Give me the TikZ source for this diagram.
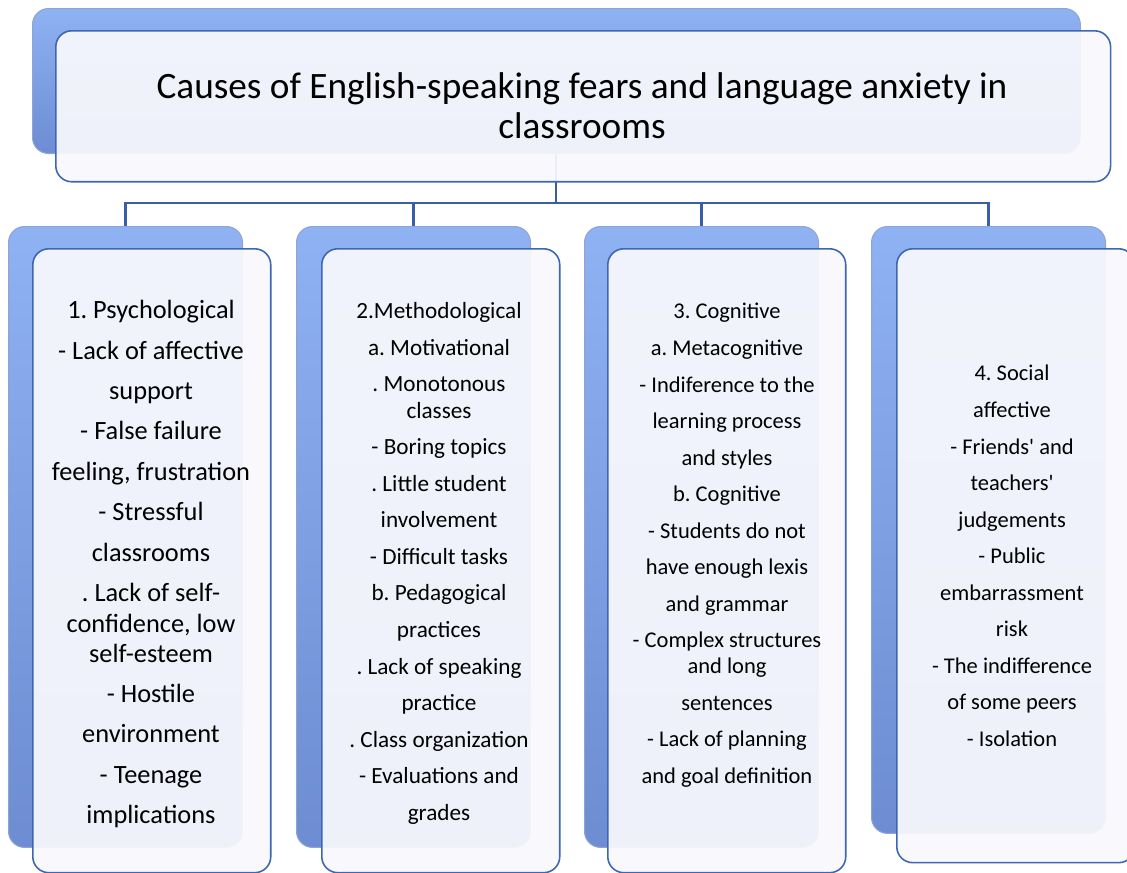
\documentclass[tikz,border=0pt]{standalone}
\usepackage{fontspec}
\setmainfont{Carlito}
\usetikzlibrary{positioning,backgrounds}
\frenchspacing

\definecolor{backtop}{HTML}{8FB2F3}
\definecolor{backbot}{HTML}{6D8CD2}
\definecolor{backedge}{HTML}{8EA4D6}
\definecolor{frontfill}{HTML}{F9F9FD}
\definecolor{frontline}{HTML}{3D66B3}
\definecolor{connline}{HTML}{3A5FA8}

\begin{document}
\begin{tikzpicture}[x=0.02cm,y=-0.02cm,
        backbox/.style={rectangle,rounded corners=0.32cm,top color=backtop,
                        bottom color=backbot,draw=backedge,line width=0.6pt,
                        anchor=north west,inner sep=0pt},
        frontbox/.style={rectangle,rounded corners=0.32cm,fill=frontfill,
                         fill opacity=0.93,draw=frontline,line width=0.9pt,
                         anchor=north west,inner sep=0pt},
        conn/.style={draw=connline,line width=1.2pt},
        titletxt/.style={anchor=north,align=center,inner sep=0pt,
                         font=\fontsize{21.2}{23.2}\selectfont},
        bigtxt/.style={anchor=north,align=center,inner sep=0pt,
                       font=\fontsize{15}{23}\selectfont},
        smalltxt/.style={anchor=north,align=center,inner sep=0pt,
                         font=\fontsize{12.8}{20.8}\selectfont}]

        \useasboundingbox (0,0) rectangle (1127,873);

        % top box
        \node[backbox,minimum width=20.96cm,minimum height=2.9cm] (topback) at (32,8) {};
        \node[frontbox,minimum width=21.1cm,minimum height=3.02cm] (topfront) at (55,30) {};
        \node[titletxt] (title) at (582,72)
             {Causes of English-speaking fears and language anxiety in\\classrooms};

        % the four causes
        \node[backbox,minimum width=4.68cm,minimum height=12.42cm] (psyback) at (8,226) {};
        \node[backbox,minimum width=4.68cm,minimum height=12.42cm] (metback) at (296,226) {};
        \node[backbox,minimum width=4.68cm,minimum height=12.42cm] (cogback) at (584,226) {};
        \node[backbox,minimum width=4.68cm,minimum height=12.14cm] (socback) at (871,226) {};

        \node[frontbox,minimum width=4.76cm,minimum height=12.48cm] (psyfront) at (32,248) {};
        \node[frontbox,minimum width=4.76cm,minimum height=12.48cm] (metfront) at (321,248) {};
        \node[frontbox,minimum width=4.76cm,minimum height=12.48cm] (cogfront) at (607,248) {};
        \node[frontbox,minimum width=4.76cm,minimum height=12.28cm] (socfront) at (896,248) {};

        \node[bigtxt] (psytxt) at (151,300)
             {1. Psychological\\- Lack of affective\\support\\- False failure\\
              feeling, frustration\\- Stressful\\classrooms\\. Lack of self-\\[-5.5pt]
              confidence, low\\[-6pt]self-esteem\\- Hostile\\environment\\
              - Teenage\\implications};
        \node[smalltxt,font=\fontsize{13.2}{20.8}\selectfont] (mettxt) at (439,302)
             {2.Methodological\\a. Motivational\\. Monotonous\\[-5.6pt]classes\\
              - Boring topics\\. Little student\\involvement\\- Difficult tasks\\
              b. Pedagogical\\practices\\. Lack of speaking\\practice\\
              . Class organization\\- Evaluations and\\grades};
        \node[smalltxt] (cogtxt) at (727,303)
             {3. Cognitive\\a. Metacognitive\\- Indiference to the\\learning process\\
              and styles\\b. Cognitive\\- Students do not\\have enough lexis\\
              and grammar\\- Complex structures\\[-6.2pt]and long\\sentences\\
              - Lack of planning\\and goal definition};
        \node[smalltxt] (soctxt) at (1012,365)
             {4. Social\\affective\\- Friends\textquotesingle\ and\\teachers\textquotesingle\\
              judgements\\- Public\\embarrassment\\risk\\- The indifference\\
              of some peers\\- Isolation};

        % connectors
        \begin{scope}[on background layer]
          \draw[conn] (topback.south) -- ++(0,49) -| (psyback.north);
          \draw[conn] (topback.south) -- ++(0,49) -| (metback.north);
          \draw[conn] (topback.south) -- ++(0,49) -| (cogback.north);
          \draw[conn] (topback.south) -- ++(0,49) -| (socback.north);
        \end{scope}
\end{tikzpicture}
\end{document}
